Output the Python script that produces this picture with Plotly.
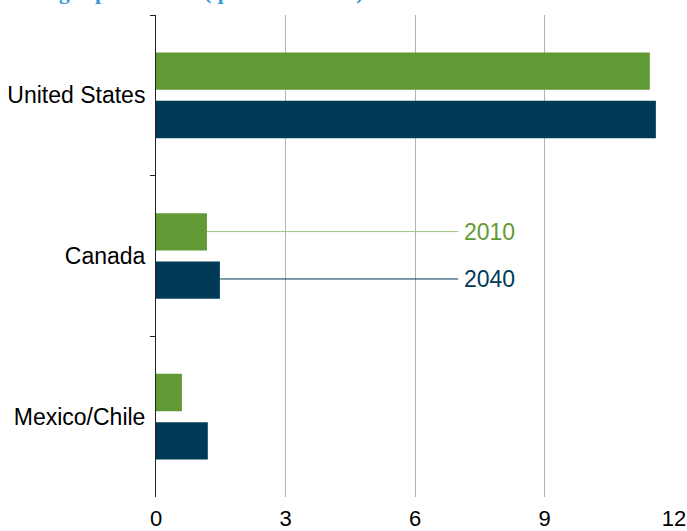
import plotly.graph_objects as go

regions = ["United States", "Canada", "Mexico/Chile"]
values_2010 = [11.44, 1.18, 0.60]
values_2040 = [11.58, 1.48, 1.20]
series_names = ["2010", "2040"]
x_ticks = [0, 3, 6, 9, 12]
title_text = "Shale gas production (quadrillion Btu)"

green = "#619a35"
navy = "#003a56"
font_fam = "Arial, Liberation Sans"

fig = go.Figure()
fig.add_trace(go.Bar(y=regions, x=values_2010, orientation="h", name=series_names[0],
                     marker=dict(color=green, line=dict(width=0))))
fig.add_trace(go.Bar(y=regions, x=values_2040, orientation="h", name=series_names[1],
                     marker=dict(color=navy, line=dict(width=0))))

# leader lines from Canada bars to labels
label_x = 7.0
fig.add_shape(type="line", xref="x", yref="y", x0=values_2010[1], x1=label_x,
              y0=1 - 0.152, y1=1 - 0.152, line=dict(color="#9cc47e", width=1))
fig.add_shape(type="line", xref="x", yref="y", x0=values_2040[1], x1=label_x,
              y0=1 + 0.143, y1=1 + 0.143, line=dict(color=navy, width=1))
fig.add_annotation(x=label_x, y=1 - 0.152, xref="x", yref="y", text=series_names[0],
                   showarrow=False, xanchor="left", xshift=4,
                   font=dict(family=font_fam, size=23, color=green))
fig.add_annotation(x=label_x, y=1 + 0.143, xref="x", yref="y", text=series_names[1],
                   showarrow=False, xanchor="left", xshift=4,
                   font=dict(family=font_fam, size=23, color=navy))

# title, mostly clipped at the top edge as in the reference
fig.add_annotation(x=0, y=1, xref="paper", yref="paper", text="<b>" + title_text + "</b>",
                   showarrow=False, xanchor="left", yanchor="bottom", xshift=-156, yshift=9,
                   font=dict(family="Liberation Serif, Times New Roman", size=22, color="#2e9ad8"))

fig.update_layout(
    width=687, height=531,
    margin=dict(l=156, r=13, t=15, b=34),
    paper_bgcolor="white", plot_bgcolor="white",
    barmode="group", bargap=0.398, bargroupgap=0.227,
    showlegend=False,
    font=dict(family=font_fam, color="black"),
)
fig.update_xaxes(range=[0, 12], tickvals=x_ticks, ticktext=[str(v) for v in x_ticks],
                 showgrid=True, gridcolor="#b3b3b3", gridwidth=1, zeroline=False,
                 showline=False, ticks="", tickfont=dict(size=22), ticklabelstandoff=6,
                 automargin=False)
fig.update_yaxes(autorange="reversed", showline=True, linecolor="#222222", linewidth=1,
                 ticks="outside", ticklen=5, tickcolor="#222222", tickson="boundaries",
                 showgrid=False, tickfont=dict(size=23), ticklabelstandoff=5,
                 automargin=False)

fig.write_html("out.html", config={"displayModeBar": False},
               post_script="document.body.style.margin='0';document.body.style.padding='0';document.body.style.overflow='hidden';")
